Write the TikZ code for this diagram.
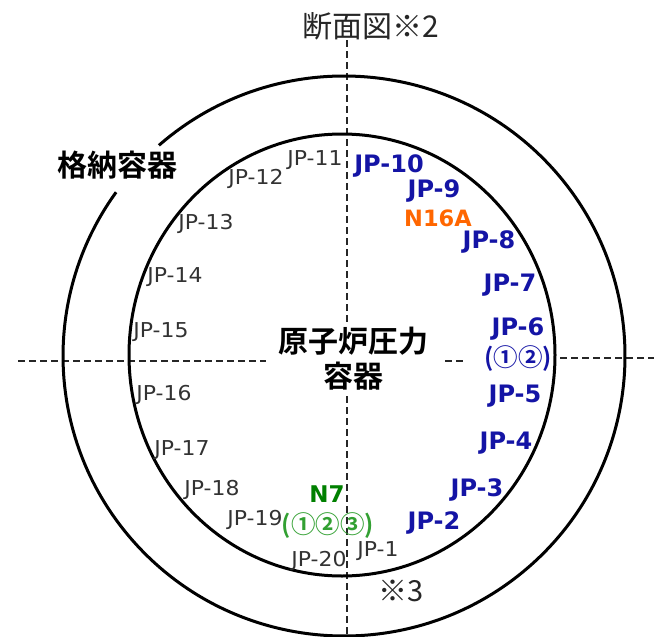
\documentclass[tikz,border=0pt]{standalone}
\usepackage{fontspec}
\setmainfont{DejaVu Sans}
\newfontfamily\lab[FakeStretch=1.07]{DejaVu Sans}
\newfontfamily\cjk{Noto Sans CJK JP}
\newfontfamily\cjkb{Noto Sans CJK JP Bold}
\definecolor{jpblue}{RGB}{20,20,165}
\definecolor{jporange}{RGB}{255,102,0}
\definecolor{jpgreen}{RGB}{0,128,0}
\definecolor{jpcirc}{RGB}{50,160,50}
\definecolor{jptxt}{RGB}{50,50,50}
\tikzset{
 thin label/.style={text=jptxt,font=\lab\fontsize{20.5}{22}\selectfont,inner sep=0pt,yshift=-2pt},
 blue label/.style={text=jpblue,font=\fontsize{24}{26}\selectfont\bfseries,inner sep=0pt,yshift=-2pt},
 vessel/.style={draw=black,line width=3pt},
 center line/.style={draw=black!85,line width=1.2pt,dash pattern=on 6.5pt off 4.5pt},
}
\begin{document}
\begin{tikzpicture}[x=1pt,y=-1pt]
\useasboundingbox (0,0) rectangle (656,637);
\coordinate (vt) at (347,40);
\coordinate (vm1) at (347,322);
\coordinate (vm2) at (347,396);
\coordinate (vb) at (347,637);
\coordinate (hl) at (18,361);
\coordinate (hl2) at (266,361);
\coordinate (hm1) at (445,361);
\coordinate (hm2) at (463,361);
\coordinate (hr1) at (560,358);
\coordinate (hr) at (654,358);
\draw[center line] (vt) -- (vm1);
\draw[center line] (vm2) -- (vb);
\draw[center line] (hl) -- (hl2);
\draw[center line] (hm1) -- (hm2);
\draw[center line] (hr1) -- (hr);
\draw[vessel] (342,355) ellipse (213 and 221);
\draw[vessel,shift={(344,356)}] (228.8:281 and 280) arc[start angle=228.8,end angle=575.8,x radius=281,y radius=280];
\node[font=\cjk\fontsize{30}{32}\selectfont,text=black!85,inner sep=0pt] (title) at (370.5,26) {断面図※2};
\node[font=\cjkb\fontsize{30}{32}\selectfont,inner sep=0pt] (cv) at (117,165) {格納容器};
\node[font=\cjkb\fontsize{30}{35}\selectfont,align=center,inner sep=0pt] (rpv) at (353,359) {原子炉圧力\\容器};
\node[font=\cjk\fontsize{29}{31}\selectfont,text=black!85,inner sep=0pt] (s3) at (401,591) {※3};
\node[thin label] (j11) at (315,158) {JP-11};
\node[thin label] (j12) at (256,177) {JP-12};
\node[thin label] (j13) at (206,222) {JP-13};
\node[thin label] (j14) at (175,275) {JP-14};
\node[thin label] (j15) at (161,330) {JP-15};
\node[thin label] (j16) at (164,393) {JP-16};
\node[thin label] (j17) at (182,448) {JP-17};
\node[thin label] (j18) at (212,488) {JP-18};
\node[thin label] (j19) at (255,518) {JP-19};
\node[thin label] (j20) at (319,559) {JP-20};
\node[thin label] (j1) at (378,549) {JP-1};
\node[blue label] (j10) at (389,164) {JP-10};
\node[blue label] (j9) at (434,189) {JP-9};
\node[text=jporange,font=\fontsize{22.5}{25}\selectfont\bfseries,inner sep=0pt] (n16) at (438,218) {N16A};
\node[blue label] (j8) at (489,240) {JP-8};
\node[blue label] (j7) at (510,283) {JP-7};
\node[blue label] (j6) at (518,327) {JP-6};
\node[blue label,font=\cjkb\fontsize{24.5}{26}\selectfont,yshift=2pt] (j6b) at (518,359) {(①②)};
\node[blue label] (j5) at (515,394) {JP-5};
\node[blue label] (j4) at (506,441) {JP-4};
\node[blue label] (j3) at (477,488) {JP-3};
\node[blue label] (j2) at (434,521) {JP-2};
\node[text=jpgreen,font=\fontsize{23}{25}\selectfont\bfseries,inner sep=0pt] (n7) at (327,494) {N7};
\node[text=jpcirc,font=\cjkb\fontsize{24.5}{26}\selectfont,inner sep=0pt] (n7b) at (328,526) {(①②③)};
\end{tikzpicture}
\end{document}
